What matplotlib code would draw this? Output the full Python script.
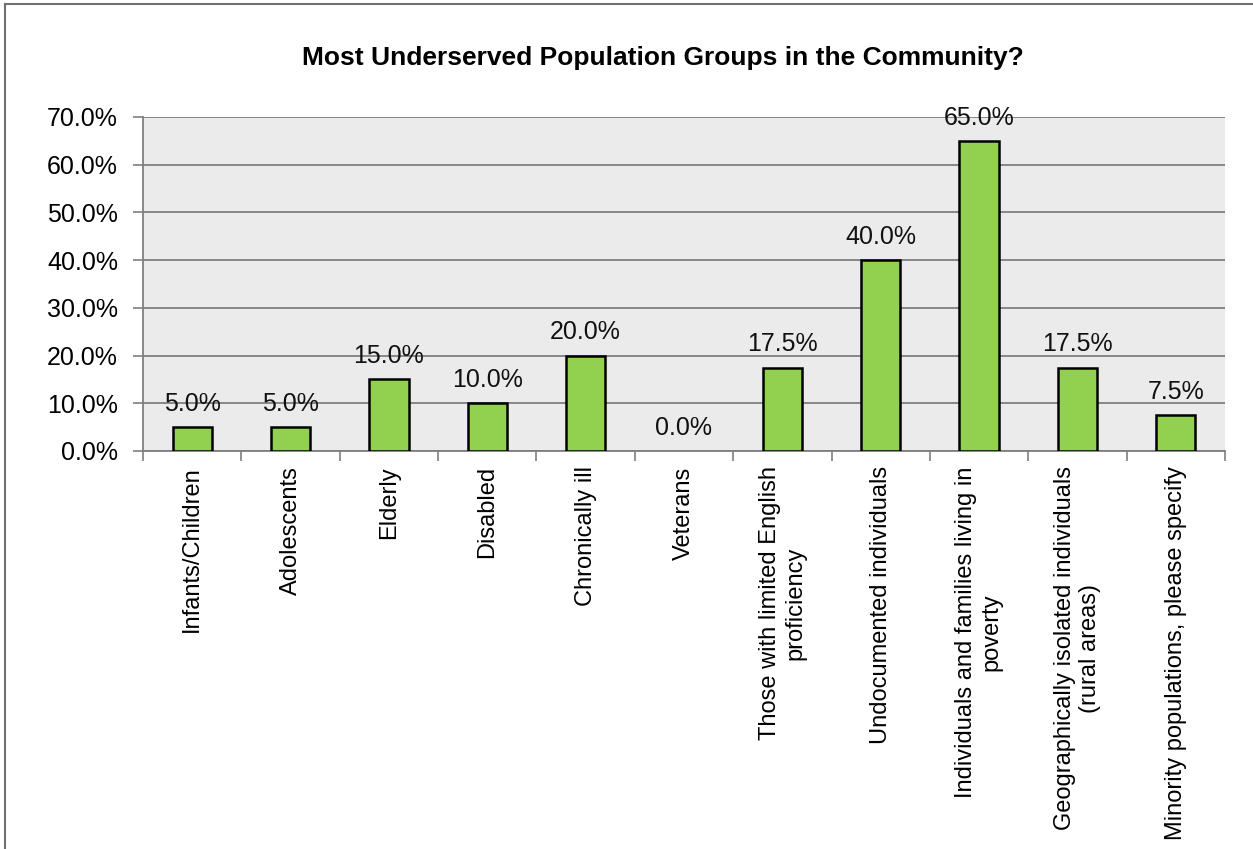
import numpy as np
import matplotlib
matplotlib.use("Agg")
import matplotlib.pyplot as plt
from matplotlib.lines import Line2D
from matplotlib.ticker import FuncFormatter

plt.rcParams['font.family'] = ['Liberation Sans Narrow', 'Liberation Sans', 'DejaVu Sans']

# chart data
categories = [
    "Infants/Children",
    "Adolescents",
    "Elderly",
    "Disabled",
    "Chronically ill",
    "Veterans",
    "Those with limited English\nproficiency",
    "Undocumented individuals",
    "Individuals and families living in\npoverty",
    "Geographically isolated individuals\n(rural areas)",
    "Minority populations, please specify",
]
percents = [5.0, 5.0, 15.0, 10.0, 20.0, 0.0, 17.5, 40.0, 65.0, 17.5, 7.5]
y_ticks = [0, 10, 20, 30, 40, 50, 60, 70]
title = "Most Underserved Population Groups in the Community?"

W, H = 1253, 849
fig = plt.figure(figsize=(W / 100, H / 100), dpi=100)
ax = fig.add_axes([143 / W, 1 - 451 / H, (1225 - 143) / W, (451 - 117) / H])

x = np.arange(len(categories))
ax.set_facecolor('#ebebeb')
# an empty bar shows no outline
edge_w = [1.8 if v > 0 else 0 for v in percents]
ax.bar(x, percents, width=0.4, color='#92d050', edgecolor='black', linewidth=edge_w, zorder=3)

for xi, v in zip(x, percents):
    ax.annotate(f"{v:.1f}%", (xi, v), xytext=(0, 8), textcoords='offset points',
                ha='center', va='bottom', fontsize=18, color='#111111', zorder=4)

ax.set_xlim(-0.5, len(categories) - 0.5)
ax.set_ylim(0, 70)
ax.set_yticks(y_ticks)
ax.yaxis.set_major_formatter(FuncFormatter(lambda v, p: f"{v:.1f}%"))
ax.yaxis.grid(True, color='#7f7f7f', linewidth=1.3, zorder=1)
ax.set_axisbelow(True)

ax.set_xticks(x)
ax.set_xticklabels(categories, rotation=90, ha='center', va='top',
                   multialignment='center', fontsize=17)
ax.set_xticks(np.arange(-0.5, len(categories), 1.0), minor=True)
ax.tick_params(axis='x', which='major', length=0, pad=11)
ax.tick_params(axis='x', which='minor', length=7, width=1.2, color='#7f7f7f')
ax.tick_params(axis='y', length=7, width=1.2, color='#7f7f7f', pad=11, labelsize=18)

for s in ['top', 'right']:
    ax.spines[s].set_visible(False)
for s in ['left', 'bottom']:
    ax.spines[s].set_color('#7f7f7f')
    ax.spines[s].set_linewidth(1.3)

fig.text(663 / W, 1 - 58 / H, title, ha='center', va='center',
         fontsize=19, fontweight='bold')

# chart frame
fig.add_artist(Line2D([5 / W, 1.0], [1 - 4 / H, 1 - 4 / H], color='#707070', linewidth=1.5))
fig.add_artist(Line2D([5 / W, 5 / W], [0, 1 - 4 / H], color='#707070', linewidth=1.5))

fig.savefig("out.png", dpi=100)
